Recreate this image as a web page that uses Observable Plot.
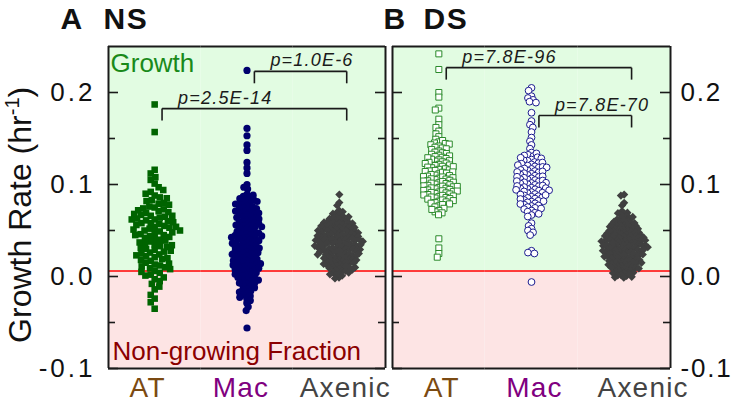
<!DOCTYPE html>
<html><head><meta charset="utf-8">
<script src="https://cdn.jsdelivr.net/npm/d3@7"></script>
<script src="https://cdn.jsdelivr.net/npm/@observablehq/plot@0.6"></script>
<style>
body{margin:0;background:#fff;}
#wrap{display:flex;width:733px;height:403px;}
#wrap svg{overflow:visible;display:block;}
</style></head><body><div id="wrap"></div>
<script>
const groups = ["AT", "Mac", "Axenic"];
const groupColors = ["#7b4a12", "#800080", "#444444"];
const yMajor = [-0.1, 0, 0.1, 0.2];
const yMajorLabels = ["-0.1", "0.0", "0.1", "0.2"];
const yMinor = [-0.05, 0.05, 0.15];
const yDomain = [-0.1, 0.25];
const threshold = 0.006;

const NS_AT = [.062,.187,.041,.075,.013,.054,.088,.029,.066,-.003,.047,.101,.035,.058,.021,.071,.006,.083,.044,.116,.052,.026,.064,-.014,.038,.079,.049,.017,.061,.092,.033,.057,.009,.069,.045,.157,.024,.073,.055,-.024,.04,.086,.03,.065,.012,.05,.097,.036,.06,.019,.076,.002,.082,.046,.112,.053,.027,.067,-.008,.039,.08,.048,.015,.063,.094,.032,.058,.01,.07,.043,.022,.074,.056,-.028,.042,.085,.031,.066,.014,.051,.105,.037,.059,.02,.078,.004,.09,.045,.108,.054,.025,.068,-.005,.034,.072,.05,.018,.062,.028,-.035,.011,-.011,.001,.023,.008,-.001,.005,-.02];
const NS_Mac = [.224,.161,.153,.143,.137,.124,.118,.112,.1,.097,.095,
  .0893,.0871,.0858,.0884, .0846,.0822,.0809,.0837,.0815, .0794,.0768,.0781,.0756,.0788,
  .0743,.0719,.0732,.0706,.0738,.0711, .0695,.0668,.0682,.0654,.0689,.0673, .0647,.0618,.0633,.0605,.0641,.0626,
  .0596,.0567,.0581,.0553,.0589,.0574,.0559, .0548,.0519,.0534,.0506,.0541,.0525, .0494,.0466,.0481,.0452,.0488,.0473,.0459,
  .0447,.0418,.0432,.0405,.0441,.0426,.0411, .0396,.0367,.0382,.0353,.0389,.0374,.0361, .0345,.0317,.0331,.0304,.0339,.0322,.0309,
  .0298,.0266,.0283,.0254,.0291,.0274,.0259, .0247,.0218,.0232,.0205,.0241,.0226,.0211, .0196,.0167,.0181,.0153,.0189,.0172,.0158,
  .0145,.0116,.0131,.0103,.0139,.0124,.0109, .0097,.0068,.0083,.0055,.0091,.0074, .0046,.0017,.0032,.0004,.0041,.0025,
  -.0006,-.0033,-.0018,-.0047,-.0011,-.0039, -.0054,-.0082,-.0067,-.0095,-.0071, -.0108,-.0136,-.0121,-.0143,
  -.0157,-.0184,-.0169,-.0196, -.0213,-.0238,-.0226, -.0262,-.0287, -.033,-.037,-.056];
const NS_Axenic = [.089,.0803,.0772,
  .0715,.0692,.0668,.0704,.0657,.0683, .0641,.0623,.0608,.0636,.0615,.0649,.0602,.0629,
  .0591,.0574,.0558,.0583,.0566,.0597,.0552,.0579,.0561,.0588, .0542,.0527,.0513,.0538,.0504,.0546,.0521,.0509,.0533,.0517,.0549,.0501,
  .0496,.0478,.0463,.0489,.0454,.0471,.0492,.0458,.0484,.0467,.0451,.0475,.0499,
  .0446,.0431,.0418,.0439,.0405,.0424,.0448,.0412,.0435,.0401,.0427,.0443,.0416,.0409,
  .0397,.0382,.0368,.0391,.0356,.0374,.0399,.0361,.0386,.0352,.0377,.0394,.0365,.0381,
  .0348,.0331,.0317,.0342,.0305,.0326,.0346,.0312,.0337,.0302,.0323,.0344,.0315,.0333,
  .0297,.0281,.0264,.0292,.0255,.0276,.0299,.0261,.0287,.0252,.0273,.0294,.0268,
  .0246,.0231,.0215,.0242,.0204,.0227,.0249,.0211,.0236,.0202,.0223,.0238,
  .0197,.0182,.0166,.0191,.0155,.0174,.0199,.0161,.0186,.0152,.0178,
  .0146,.0131,.0117,.0142,.0105,.0124,.0148,.0111,.0136,.0102,
  .0096,.0081,.0067,.0092,.0055,.0074,.0099,.0061, .0046,.0031,.0017,.0042,.0008,.0024, -.0012,-.0021];
const DS_AT = [.242,.225,.2,.195,.183,.181,.171,.165,.162,.158,.155,.152,
  .1492,.1463,.1478,.1451, .1446,.1418,.1432,.1405,.1439, .1397,.1364,.1381,.1352,.1388,
  .1345,.1318,.1329,.1303,.1337,.1311, .1296,.1268,.1282,.1254,.1275,.1291,.1259,
  .1247,.1219,.1233,.1206,.1241,.1212,.1228, .1198,.1165,.1182,.1153,.1189,.1171,.1159,.1194,
  .1148,.1116,.1133,.1102,.1141,.1124,.1109,.1137, .1097,.1068,.1082,.1053,.1091,.1074,.1059,.1086,.1062,
  .1046,.1019,.1033,.1004,.1041,.1025,.1011,.1038,.1015, .0997,.0968,.0982,.0953,.0991,.0975,.0959,.0986,.0963,.0979,
  .0947,.0918,.0932,.0903,.0941,.0925,.0909,.0936,.0914,.0929, .0897,.0868,.0882,.0853,.0891,.0875,.0859,.0886,.0864,
  .0847,.0818,.0832,.0803,.0841,.0825,.0811, .0797,.0768,.0782,.0756,.0789, .0741,.0718,.0703,.0729, .0692,.0671,
  .041,.031,.025,.021];
const DS_Mac = [.205,.202,.196,.194,.192,.19,.189,.178,.169,.165,.162,.157,.151,.147,.143,.139,
  .1347,.1322,.1309,.1338,.1315, .1296,.1271,.1258,.1284,.1263,.1291, .1244,.1218,.1232,.1205,.1239,.1226,.1211,
  .1197,.1169,.1183,.1152,.1191,.1174,.1158,.1186, .1146,.1117,.1131,.1104,.1142,.1123,.1109,.1136,
  .1095,.1067,.1081,.1054,.1089,.1073,.1058,.1084, .1048,.1016,.1032,.1003,.1043,.1024,.1011,.1037,.1019,
  .0996,.0965,.0981,.0952,.0989,.0972,.0958,.0984,.0961, .0948,.0917,.0933,.0906,.0942,.0925,.0911,.0937,
  .0896,.0867,.0881,.0854,.0891,.0873,.0859,.0885, .0847,.0814,.0831,.0806,.0842,.0823,.0818,
  .0795,.0766,.0781,.0754,.0788,.0772, .0746,.0717,.0732,.0705,.0739, .0693,.0668,.0681,.0652,
  .058,.055,.052,.05,.048,.045,.028,.026,.025,-.006];
const DS_Axenic = [.089,.088,.0801,.0772,.0683,
  .0712,.0694,.0671,.0656,.0688, .0644,.0627,.0611,.0638,.0603,.0619,.0647,
  .0593,.0576,.0559,.0585,.0564,.0598,.0553,.0581,.0569, .0544,.0529,.0511,.0536,.0503,.0548,.0522,.0507,.0531,.0518,.0541,
  .0497,.0476,.0462,.0487,.0453,.0472,.0493,.0457,.0482,.0466,.0451,.0478,.0498,.0469,
  .0445,.0433,.0416,.0438,.0404,.0422,.0447,.0413,.0436,.0402,.0428,.0441,.0418,.0407,.0425,
  .0396,.0384,.0366,.0392,.0357,.0372,.0398,.0362,.0387,.0353,.0378,.0393,.0367,.0383,.0359,
  .0347,.0332,.0316,.0343,.0306,.0327,.0345,.0313,.0338,.0303,.0324,.0341,.0314,.0334,.0319,
  .0296,.0282,.0263,.0291,.0256,.0277,.0298,.0262,.0286,.0253,.0272,.0293,.0267,.0281,
  .0247,.0232,.0214,.0243,.0205,.0228,.0248,.0212,.0237,.0203,.0221,.0239,.0217,
  .0196,.0183,.0167,.0192,.0156,.0173,.0198,.0162,.0187,.0153,.0179,.0171,
  .0147,.0132,.0118,.0143,.0106,.0125,.0149,.0112,.0137,.0103,.0128,
  .0097,.0082,.0066,.0093,.0056,.0073,.0098,.0062,.0087, .0047,.0032,.0016,.0043,.0007,.0025,.0038,.0011,
  -.0004,-.0013,-.0009];

const nsBrackets = [
  {from: "AT", to: "Axenic", level: 0.1825, p: "p=2.5E-14"},
  {from: "Mac", to: "Axenic", level: 0.223, p: "p=1.0E-6"}
];
const dsBrackets = [
  {from: "AT", to: "Axenic", level: 0.227, p: "p=7.8E-96"},
  {from: "Mac", to: "Axenic", level: 0.175, p: "p=7.8E-70"}
];

const FONT = '"Liberation Sans", Arial, sans-serif';
const INK = "#1a1a1a";

function panel(cfg) {
  const first = () => groups[0], last = () => groups[groups.length - 1];
  const marks = [];
  marks.push(Plot.rect([0], {y1: threshold, y2: yDomain[1], fill: "#e2fce2"}));
  marks.push(Plot.rect([0], {y1: yDomain[0], y2: threshold, fill: "#fde4e4"}));
  marks.push(Plot.ruleY([threshold], {stroke: "#ff0000", strokeWidth: 1.6}));
  cfg.series.forEach((s, i) => {
    const rows = s.values.map(v => ({g: groups[i], v}));
    marks.push(Plot.dot(rows, Plot.dodgeX({anchor: "middle", padding: 0, r: s.dodge},
      {fx: "g", y: "v", r: s.r, symbol: s.symbol, fill: s.fill, stroke: s.stroke, strokeWidth: s.strokeWidth || 0})));
  });
  const off = 0.58, drop = 0.013;
  const segs = [];
  cfg.brackets.forEach(b => {
    const a = groups.indexOf(b.from) + off, c = groups.indexOf(b.to) + off;
    segs.push({x1: a, x2: a, y1: b.level - drop, y2: b.level});
    segs.push({x1: a, x2: c, y1: b.level, y2: b.level});
    segs.push({x1: c, x2: c, y1: b.level, y2: b.level - drop});
  });
  marks.push(Plot.link(segs, {fx: first, x1: "x1", x2: "x2", y1: "y1", y2: "y2", stroke: INK, strokeWidth: 1.6}));
  marks.push(Plot.text(cfg.brackets, {fx: first, x: b => groups.indexOf(b.from) + off, y: "level", text: "p",
    dx: 16, dy: -5, textAnchor: "start", lineAnchor: "bottom", fontSize: 18, fontStyle: "italic", fill: INK}));
  marks.push(Plot.ruleY(yDomain, {stroke: INK, strokeWidth: 2}));
  marks.push(Plot.ruleX([0], {fx: first, x: d => d, stroke: INK, strokeWidth: 2}));
  marks.push(Plot.ruleX([1], {fx: last, x: d => d, stroke: INK, strokeWidth: 2}));
  marks.push(Plot.ruleY(yMajor, {fx: first, y: d => d, x1: 0, x2: 0, insetRight: -10, stroke: INK, strokeWidth: 1.6}));
  marks.push(Plot.ruleY(yMinor, {fx: first, y: d => d, x1: 0, x2: 0, insetRight: -7, stroke: INK, strokeWidth: 1.6}));
  marks.push(Plot.ruleY(yMajor, {fx: last, y: d => d, x1: 1, x2: 1, insetLeft: -10, stroke: INK, strokeWidth: 1.6}));
  marks.push(Plot.ruleY(yMinor, {fx: last, y: d => d, x1: 1, x2: 1, insetLeft: -7, stroke: INK, strokeWidth: 1.6}));
  const left = cfg.labelSide === "left";
  marks.push(Plot.text(yMajor, {fx: left ? first : last, x: left ? 0 : 1, y: d => d,
    text: (d, i) => yMajorLabels[i], dx: left ? -13 : 10,
    textAnchor: left ? "end" : "start", lineAnchor: "middle", fontSize: 26, fill: "#111"}));
  groups.forEach((g, i) => {
    marks.push(Plot.text([g], {fx: d => d, x: 0.5, y: yDomain[0], text: d => d, dx: cfg.catDx[i], dy: 28,
      lineAnchor: "bottom", fontSize: 28, fill: groupColors[i]}));
  });
  marks.push(Plot.text([0], {fx: first, x: 0, y: yDomain[1], text: () => cfg.letter, dx: cfg.letterDx, dy: -18,
    textAnchor: "start", lineAnchor: "bottom", fontSize: 30, fontWeight: "bold", fill: "#111"}));
  marks.push(Plot.text([0], {fx: first, x: 0, y: yDomain[1], text: () => cfg.title, dx: cfg.titleDx, dy: -18,
    textAnchor: "start", lineAnchor: "bottom", fontSize: 30, fontWeight: "bold", fill: "#111"}));
  if (cfg.regionLabels) {
    marks.push(Plot.text([0], {fx: first, x: 0, y: yDomain[1], text: () => "Growth", dx: 2, dy: 25,
      textAnchor: "start", lineAnchor: "bottom", fontSize: 26, fill: "#1a8a1a"}));
    marks.push(Plot.text([0], {fx: first, x: 0, y: yDomain[0], text: () => "Non-growing Fraction", dx: 4, dy: -9,
      textAnchor: "start", lineAnchor: "bottom", fontSize: 26, fill: "#8b0000"}));
    marks.push(Plot.text([0], {fx: first, x: 0, y: () => 0.067, text: () => "Growth Rate (hr-1)", dx: -88,
      rotate: -90, textAnchor: "middle", lineAnchor: "middle", fontSize: 32, fill: "#111"}));
  }
  const svg = Plot.plot({
    width: cfg.width, height: 403,
    marginLeft: cfg.marginLeft, marginRight: cfg.marginRight, marginTop: 46, marginBottom: 35,
    fx: {domain: groups, padding: 0, round: false, axis: null},
    x: {domain: [0, 1], axis: null},
    y: {domain: yDomain, axis: null},
    style: {fontFamily: FONT, background: "transparent", overflow: "visible"},
    marks
  });
  d3.select(svg).selectAll("text").each(function () {
    const t = d3.select(this);
    const s = this.textContent;
    if (yMajorLabels.includes(s)) t.style("letter-spacing", left ? "3px" : "1.8px");
    else if (groups.includes(s)) t.style("letter-spacing", "1.2px");
    else if (s.startsWith("p=")) t.style("letter-spacing", "1.2px");
    else if (s === "NS" || s === "DS") t.style("letter-spacing", "1.5px");
    else if (s === "Growth Rate (hr-1)") {
      t.text("Growth Rate (hr");
      t.append("tspan").attr("dy", "-12").attr("font-size", "20").text("-1");
      t.append("tspan").attr("dy", "12").text(")");
    }
  });
  return svg;
}

const wrap = document.getElementById("wrap");
wrap.appendChild(panel({
  width: 388, marginLeft: 108, marginRight: 3, labelSide: "left",
  letter: "A", title: "NS", letterDx: -48, titleDx: -5, regionLabels: true,
  catDx: [-7, -6, 6], brackets: nsBrackets,
  series: [
    {values: NS_AT, symbol: "square", r: 3.7, fill: "#006400", dodge: 2.7},
    {values: NS_Mac, symbol: "circle", r: 3.6, fill: "#00006e", dodge: 2.1},
    {values: NS_Axenic, symbol: "diamond2", r: 3.7, fill: "#404040", dodge: 1.8}
  ]
}));
wrap.appendChild(panel({
  width: 345, marginLeft: 4, marginRight: 63, labelSide: "right",
  letter: "B", title: "DS", letterDx: -9, titleDx: 31, regionLabels: false,
  catDx: [3, 3, 19], brackets: dsBrackets,
  series: [
    {values: DS_AT, symbol: "square", r: 3.4, fill: "white", stroke: "#2a8a2a", strokeWidth: 1, dodge: 2.0},
    {values: DS_Mac, symbol: "circle", r: 3.4, fill: "white", stroke: "#1c1c8f", strokeWidth: 1, dodge: 2.0},
    {values: DS_Axenic, symbol: "diamond2", r: 3.7, fill: "#404040", dodge: 1.7}
  ]
}));
</script></body></html>
